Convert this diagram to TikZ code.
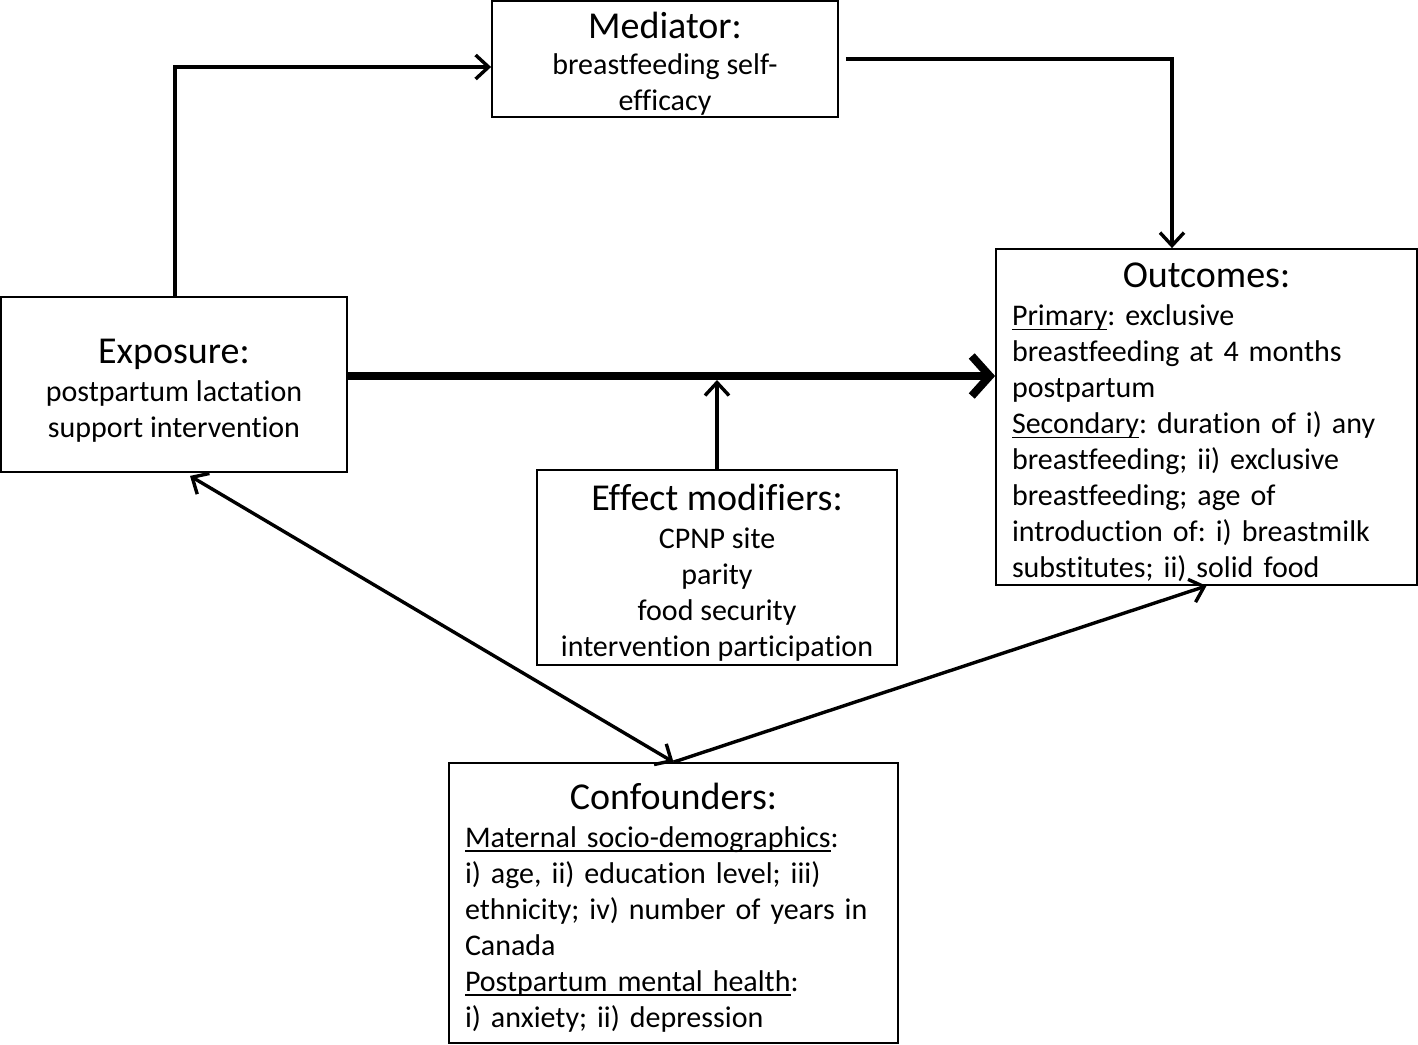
\documentclass[tikz,border=0pt]{standalone}
\usepackage{fontspec}
\setmainfont{Carlito}[Ligatures=NoCommon]
\usetikzlibrary{arrows.meta}
\frenchspacing

% underline in the word-processor manner
\newcommand{\undl}[1]{\leavevmode\sbox0{#1}\rlap{\rule[-2.2pt]{\wd0}{0.8pt}}#1}
% box titles
\newcommand{\boxhd}[1]{{\fontsize{19}{18}\selectfont\rule{0pt}{18pt}#1}}

\tikzset{
  box/.style={draw, line width=0.9pt, inner sep=0pt, align=center,
    font=\fontsize{15}{18}\selectfont\frenchspacing},
  listbox/.style={box, align=left, inner xsep=8pt},
  link/.style={line width=1.7pt, -{Straight Barb[length=6.5pt,width=12pt]}},
  mainlink/.style={line width=4pt, -{Straight Barb[length=9pt,width=20pt]}}
}

\begin{document}
\begin{tikzpicture}[x=0.5pt, y=-0.5pt]
			\useasboundingbox (0,0) rectangle (1418,1044);
			
			% Boxes
			\node[box, minimum width=173pt, minimum height=58pt] (med) at (665,59)
				{\boxhd{Mediator:}\\breastfeeding self-\\efficacy};
			\node[box, minimum width=173pt, minimum height=87.5pt] (exp) at (174,384.5)
				{\boxhd{Exposure:}\\[1pt]postpartum lactation\\support intervention};
			\node[listbox, text width=194.5pt, minimum height=168pt] (out) at (1206.5,417)
				{\makebox[\hsize]{\boxhd{Outcomes:}}\\[1pt]
				\undl{Primary}: exclusive\\
				breastfeeding at 4 months\\
				postpartum\\
				\undl{Secondary}: duration of i) any\\
				breastfeeding; ii) exclusive\\
				breastfeeding; age of\\
				introduction of: i) breastmilk\\
				substitutes; ii) solid food};
			\node[box, minimum width=180pt, minimum height=97.5pt] (eff) at (717,567.5)
				{\boxhd{Effect modifiers:}\\[1pt]CPNP site\\parity\\food security\\intervention participation};
			\node[listbox, text width=208.5pt, minimum height=140pt] (con) at (673.5,903)
				{\makebox[\hsize]{\boxhd{Confounders:}}\\[1pt]
				\undl{Maternal socio-demographics}:\\
				i) age, ii) education level; iii)\\
				ethnicity; iv) number of years in\\
				Canada\\
				\undl{Postpartum mental health}:\\
				i) anxiety; ii) depression};
			
			% Main effect
			\coordinate (axis) at ([yshift=4.25pt]exp.east);
			\draw[mainlink] (axis) -- (axis -| out.west);
			
			% Mediated path
			\draw[link] ([xshift=0.5pt]exp.north) |- ([yshift=-4pt]med.west);
			\draw[link] ([xshift=3.5pt]med.east) -| ([xshift=-17.25pt]out.north);
			
			% Effect modification
			\draw[link, shorten >=2pt] (eff.north) -- (eff.north |- axis);
			
			% Confounding
			\draw[link, {Straight Barb[length=6.5pt,width=12pt]}-{Straight Barb[length=6.5pt,width=12pt]}] ([xshift=8pt,yshift=-1.5pt]exp.south) -- (con.north);
			\draw[link] (con.north) -- (out.south);
		\end{tikzpicture}
\end{document}
